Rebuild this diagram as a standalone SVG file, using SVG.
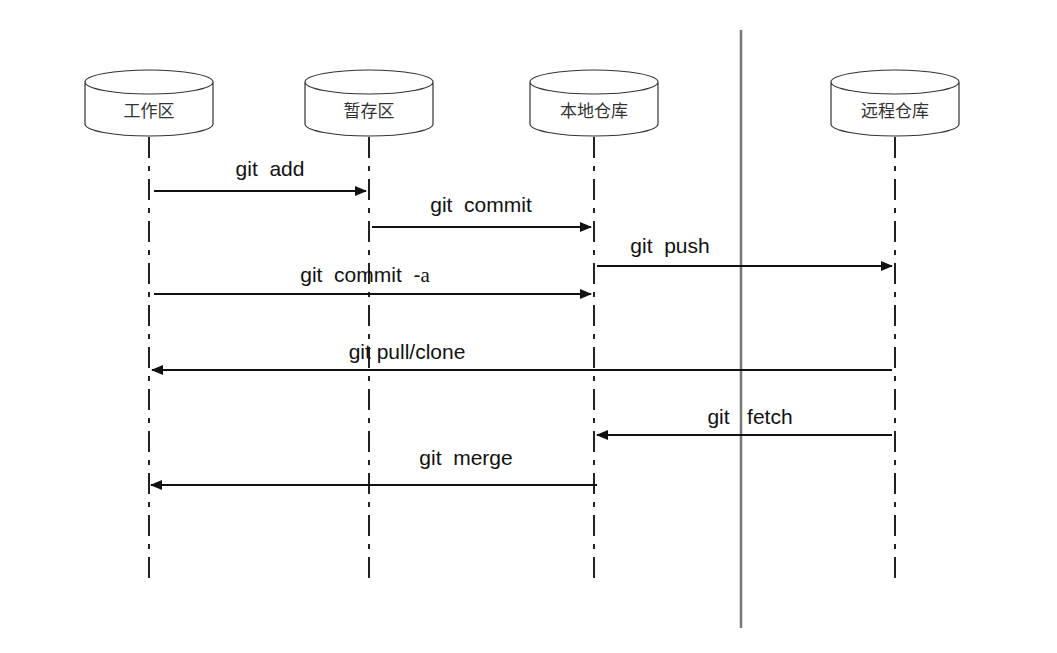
<svg xmlns="http://www.w3.org/2000/svg" width="1057" height="653" viewBox="0 0 1057 653">
<style>
.cyl{fill:#fff;stroke:#333;stroke-width:1.2}
.nt{font-family:"Noto Sans CJK SC",sans-serif;font-size:17px;fill:#333;text-anchor:middle}
.life{stroke:#222;stroke-width:2;stroke-dasharray:21 8 5 8}
.msg{stroke:#111;stroke-width:2;fill:none;marker-end:url(#ah)}
.lb{font-family:"Liberation Sans",Arial,sans-serif;font-size:21px;fill:#111;text-anchor:middle}
</style>
<defs>
<marker id="ah" markerWidth="12" markerHeight="10" refX="11" refY="5" orient="auto" markerUnits="userSpaceOnUse"><path d="M0,0 L12,5 L0,10 Z" fill="#111"/></marker>
</defs>
<rect width="1057" height="653" fill="#fff"/>
<line x1="741" y1="30" x2="741" y2="628" stroke="#777" stroke-width="2.5"/>
<g id="lifelines">
<line class="life" x1="149" y1="137" x2="149" y2="582"/>
<line class="life" x1="369" y1="137" x2="369" y2="582"/>
<line class="life" x1="594" y1="137" x2="594" y2="582"/>
<line class="life" x1="895" y1="137" x2="895" y2="582"/>
</g>
<g id="n1"><path class="cyl" d="M85,82 A64,12 0 0 1 213,82 V124 A64,12 0 0 1 85,124 Z M85,82 A64,12 0 0 0 213,82"/><text class="nt" x="149" y="117">工作区</text></g>
<g id="n2"><path class="cyl" d="M305,82 A64,12 0 0 1 433,82 V124 A64,12 0 0 1 305,124 Z M305,82 A64,12 0 0 0 433,82"/><text class="nt" x="369" y="117">暂存区</text></g>
<g id="n3"><path class="cyl" d="M530,82 A64,12 0 0 1 658,82 V124 A64,12 0 0 1 530,124 Z M530,82 A64,12 0 0 0 658,82"/><text class="nt" x="594" y="117">本地仓库</text></g>
<g id="n4"><path class="cyl" d="M831,82 A64,12 0 0 1 959,82 V124 A64,12 0 0 1 831,124 Z M831,82 A64,12 0 0 0 959,82"/><text class="nt" x="895" y="117">远程仓库</text></g>
<g id="connectors">
<line class="msg" x1="154" y1="191" x2="366" y2="191"/>
<line class="msg" x1="372" y1="227" x2="591" y2="227"/>
<line class="msg" x1="597" y1="266" x2="892" y2="266"/>
<line class="msg" x1="154" y1="294" x2="591" y2="294"/>
<line class="msg" x1="892" y1="370" x2="152" y2="370"/>
<line class="msg" x1="892" y1="435" x2="597" y2="435"/>
<line class="msg" x1="597" y1="485" x2="151" y2="485"/>
</g>
<g id="labels">
<text class="lb" x="270" y="176" xml:space="preserve">git  add</text>
<text class="lb" x="481" y="212" xml:space="preserve">git  commit</text>
<text class="lb" x="670" y="253" xml:space="preserve">git  push</text>
<text class="lb" x="365" y="282" xml:space="preserve">git  commit  -<tspan font-family="Liberation Serif,serif">a</tspan></text>
<text class="lb" x="407" y="359">git pull/clone</text>
<text class="lb" x="750" y="424" xml:space="preserve">git   fetch</text>
<text class="lb" x="466" y="465" xml:space="preserve">git  merge</text>
</g>
</svg>
